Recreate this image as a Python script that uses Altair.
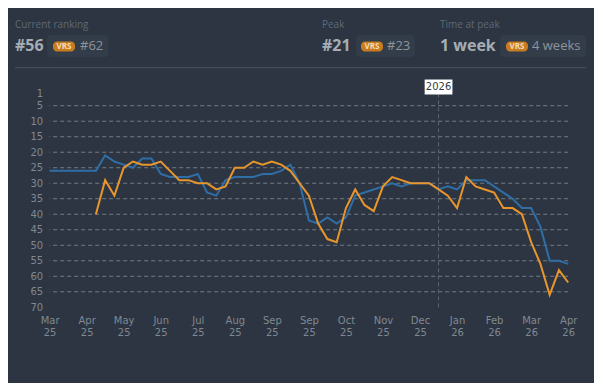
import altair as alt
import pandas as pd

# ---------------- data ----------------
week_start = "2025-03-17"          # weekly points (Mondays)
blue_rank = [26, 26, 26, 26, 26, 26, 21, 23, 24, 25, 22, 22, 27, 28, 28, 28, 27, 33, 34, 29,
             28, 28, 28, 27, 27, 26, 24, 30, 42, 43, 41, 43, 41, 34, 33, 32, 31, 30, 31, 30,
             30, 30, 32, 31, 32, 29, 29, 29, 31, 33, 35, 38, 38, 44, 55, 55, 56]
orange_rank = [None, None, None, None, None,
               40, 29, 34, 25, 23, 24, 24, 23, 26, 29, 29, 30, 30, 32, 31,
               25, 25, 23, 24, 23, 24, 26, 30, 34, 43, 48, 49, 38, 32, 37,
               39, 31, 28, 29, 30, 30, 30, 32, 34, 38, 28, 31, 32, 33, 38,
               38, 40, 49, 56, 66, 58, 62]
series_names = ["Ranking", "VRS"]
tick_months = ["Mar", "Apr", "May", "Jun", "Jul", "Aug", "Sep", "Sep", "Oct", "Nov", "Dec",
               "Jan", "Feb", "Mar", "Apr"]
tick_years = ["25", "25", "25", "25", "25", "25", "25", "25", "25", "25", "25",
              "26", "26", "26", "26"]
y_ticks = [1, 5, 10, 15, 20, 25, 30, 35, 40, 45, 50, 55, 60, 65, 70]
grid_ranks = [5, 10, 15, 20, 25, 30, 35, 40, 45, 50, 55, 60, 65]
marker_week = 42
marker_label = "2026"
header_titles = ["Current ranking", "Peak", "Time at peak"]
header_main = ["#56", "#21", "1 week"]
header_vrs = ["#62", "#23", "4 weeks"]
badge_text = "VRS"

# ---------------- layout ----------------
BG = "#2c3541"
BLUE = "#2f6ea6"
ORANGE = "#e8962c"
AXIS_C = "#808993"
X0, Y0 = 49.6, 93.3         # plot origin in page pixels
W, H = 518.6, 214.0


def px(x):
    return x - X0


def py(y):
    return y - Y0


n = len(blue_rank)
dates = pd.date_range(week_start, periods=n, freq="7D")
df = pd.DataFrame({"week": range(n), "date": dates.strftime("%Y-%m-%d"),
                   "blue": blue_rank, "orange": orange_rank})
blue_df = df[["week", "date", "blue"]].rename(columns={"blue": "rank"})
blue_df["series"] = series_names[0]
orange_df = df[["week", "date", "orange"]].rename(columns={"orange": "rank"}).dropna()
orange_df["series"] = series_names[1]

label_array = "[" + ",".join(f"['{m}','{y}']" for m, y in zip(tick_months, tick_years)) + "]"

x_scale = alt.Scale(domain=[0, n - 1], nice=False, zero=False)
x_axis = alt.Axis(values=list(range(0, n, 4)), labelExpr=label_array + "[round(datum.value / 4)]",
                  grid=False, domain=False, ticks=False, title=None, labelColor=AXIS_C,
                  labelFont="DejaVu Sans", labelFontSize=10, labelPadding=8,
                  labelLineHeight=12, labelFlush=False, labelOverlap=False)
x_enc = alt.X("week:Q", scale=x_scale, axis=x_axis)
y_scale = alt.Scale(domain=[1, 70], reverse=True, nice=False, zero=False)
y_axis = alt.Axis(values=y_ticks, grid=False, domain=False, ticks=False, title=None,
                  labelColor=AXIS_C, labelFont="DejaVu Sans", labelFontSize=10,
                  labelPadding=7, labelOverlap=False, labelFlush=False)

grid = alt.Chart(pd.DataFrame({"rank": grid_ranks})).mark_rule(
    color="#737c86", strokeDash=[4, 3], strokeWidth=1
).encode(y=alt.Y("rank:Q", scale=y_scale, axis=y_axis))

marker_df = pd.DataFrame({"week": [marker_week], "label": [marker_label]})
marker_line = alt.Chart(marker_df).mark_rule(
    color="#5b6470", strokeDash=[4, 3], strokeWidth=1
).encode(x=x_enc, y=alt.value(0), y2=alt.value(H))
marker_box = alt.Chart(marker_df).transform_calculate(
    a="datum.week - 1.5", b="datum.week + 1.5"
).mark_rect(color="#ffffff").encode(
    x=alt.X("a:Q", scale=x_scale, axis=x_axis),
    x2="b:Q", y=alt.value(py(79.5)), y2=alt.value(py(94.5)))
marker_text = alt.Chart(marker_df).mark_text(
    color="#333a44", font="DejaVu Sans", fontSize=10, baseline="middle", align="center"
).encode(x=x_enc, y=alt.value(py(87.2)), text="label:N")

blue_line = alt.Chart(blue_df).mark_line(color=BLUE, strokeWidth=2).encode(
    x=x_enc, y=alt.Y("rank:Q", scale=y_scale, axis=y_axis))
orange_line = alt.Chart(orange_df).mark_line(color=ORANGE, strokeWidth=2).encode(
    x=x_enc, y=alt.Y("rank:Q", scale=y_scale, axis=y_axis))

# ---------------- header ----------------
header_x = [15, 322, 440]
box_x = [(47, 108.5), (356, 415), (500, 586)]
pill_x = [(53, 75), (361, 383), (506, 528)]
vrs_x = [80, 387, 532]

layers = [grid, marker_line, blue_line, orange_line, marker_box, marker_text]


def one(text):
    return alt.Chart(pd.DataFrame({"t": [text]}))


sep = one("").mark_rule(color="#4a5460", strokeWidth=1).encode(
    x=alt.value(px(15)), x2=alt.value(px(586)), y=alt.value(py(67.7)))
layers.append(sep)

for i in range(3):
    layers.append(one(header_titles[i]).mark_text(
        align="left", baseline="middle", font="Open Sans", fontSize=10, color="#5f6975"
    ).encode(x=alt.value(px(header_x[i])), y=alt.value(py(25)), text="t:N"))
    layers.append(one(header_main[i]).mark_text(
        align="left", baseline="middle", font="Open Sans", fontSize=16, fontWeight="bold",
        color="#a6adb5"
    ).encode(x=alt.value(px(header_x[i])), y=alt.value(py(45.5)), text="t:N"))
    layers.append(one("").mark_rect(color="#333d4a", cornerRadius=4).encode(
        x=alt.value(px(box_x[i][0])), x2=alt.value(px(box_x[i][1])),
        y=alt.value(py(35)), y2=alt.value(py(57))))
    layers.append(one("").mark_rect(color="#c97b1f", cornerRadius=4).encode(
        x=alt.value(px(pill_x[i][0])), x2=alt.value(px(pill_x[i][1])),
        y=alt.value(py(41.5)), y2=alt.value(py(51.5))))
    layers.append(one(badge_text).mark_text(
        align="center", baseline="middle", font="Open Sans", fontSize=8, fontWeight="bold",
        color="#f3dcb8"
    ).encode(x=alt.value(px((pill_x[i][0] + pill_x[i][1]) / 2)), y=alt.value(py(46.8)),
             text="t:N"))
    layers.append(one(header_vrs[i]).mark_text(
        align="left", baseline="middle", font="Open Sans", fontSize=13, color="#8d949c"
    ).encode(x=alt.value(px(vrs_x[i])), y=alt.value(py(46)), text="t:N"))

chart = alt.layer(*layers).properties(
    width=W, height=H,
    autosize=alt.AutoSizeParams(type="none"),
    padding={"left": X0 - 8, "top": Y0 - 8, "right": 26, "bottom": 76},
    background=BG,
).configure_view(stroke=None)

chart.save("out.html", embed_options={"renderer": "svg", "actions": False})
